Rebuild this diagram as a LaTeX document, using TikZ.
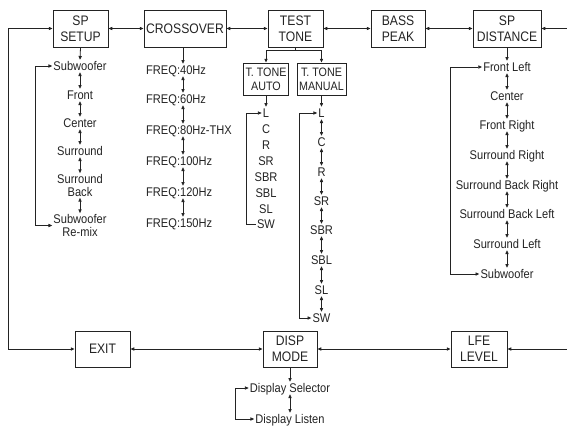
\documentclass[tikz,border=0pt]{standalone}
\usepackage{fontspec}
\setmainfont{Liberation Sans}[FakeStretch=0.88]
\usetikzlibrary{arrows.meta,positioning,calc}
\definecolor{MenuInk}{RGB}{35,35,35}

\begin{document}
\begin{tikzpicture}[x=1pt,y=-1pt,
    menu/.style={draw=MenuInk,line width=0.9pt,align=center,inner sep=1pt,minimum height=37pt,font=\fontsize{13.8}{16}\selectfont,text=MenuInk},
    submenu/.style={menu,minimum height=32pt,font=\fontsize{12.2}{14}\selectfont},
    lbl/.style={inner sep=1pt,align=center,font=\fontsize{12.6}{13}\selectfont,text=MenuInk},
    item/.style={lbl,text height=9pt,text depth=1pt},
    go/.style={draw=MenuInk,line width=0.8pt,-{Triangle[length=3.8pt,width=3.2pt]}},
    link/.style={draw=MenuInk,line width=0.8pt,{Triangle[length=3.8pt,width=3.2pt]}-{Triangle[length=3.8pt,width=3.2pt]}},
    rail/.style={draw=MenuInk,line width=0.9pt}
  ]
    \useasboundingbox (0,0) rectangle (567,426);

    % top row
    \node[menu,minimum width=55pt] (setup) at (80.5,28.5) {SP\\SETUP};
    \node[menu,minimum width=82pt] (cross) at (185,28.5) {CROSSOVER};
    \node[menu,minimum width=55pt] (tone) at (295.5,28.5) {TEST\\TONE};
    \node[menu,minimum width=54pt] (bass) at (398,28.5) {BASS\\PEAK};
    \node[menu,minimum width=68pt] (dist) at (507,28.5) {SP\\DISTANCE};
    \node[submenu,minimum width=45pt] (auto) at (266,79) {T. TONE\\AUTO};
    \node[submenu,minimum width=49pt] (manual) at (321.5,79) {T. TONE\\MANUAL};

    % bottom row
    \node[menu,minimum width=55pt,minimum height=36pt] (exit) at (102.5,349) {EXIT};
    \node[menu,minimum width=54pt,minimum height=36pt] (disp) at (290,349) {DISP\\MODE};
    \node[menu,minimum width=56pt,minimum height=36pt] (lfe) at (479,349) {LFE\\LEVEL};

    \coordinate (lrail) at (8,0);
    \coordinate (rtop) at (567,28.5);
    \coordinate (rbot) at (567,349);

    \draw[link] (setup) -- (cross);
    \draw[link] (cross) -- (tone);
    \draw[link] (tone) -- (bass);
    \draw[link] (bass) -- (dist);
    \draw[go] (rtop) -- (rtop -| dist.east);
    \draw[link] (exit) -- (disp);
    \draw[link] (disp) -- (lfe);
    \draw[go] (rbot) -- (rbot -| lfe.east);
    \draw[link] (exit.west) -- (exit.west -| lrail) |- (setup.west);

    \draw[rail] (tone.south) -- ++(0,3) coordinate (fork);
    \draw[go] (fork) -| (auto.north);
    \draw[go] (fork) -| (manual.north);

    % SP SETUP list
    \node[item] (su1) at (80,66) {Subwoofer};
    \node[item] (su2) at (80,95) {Front};
    \node[item] (su3) at (80,123) {Center};
    \node[item] (su4) at (80,151) {Surround};
    \node[lbl] (su5) at (80,185.5) {Surround\\Back};
    \node[lbl] (su6) at (80,225.5) {Subwoofer\\Re-mix};
    \coordinate (surail) at (35,0);
    \draw[go] (setup.south) -- (su1.north);
    \foreach \a/\b in {su1/su2,su2/su3,su3/su4,su4/su5,su5/su6}
      \draw[link] (\a.south) -- (\b.north);
    \draw[link] (su1.west) -- (su1.west -| surail) |- (su6.west);

    % CROSSOVER list
    \node[item,anchor=west] (f1) at (145,70) {FREQ:40Hz};
    \node[item,anchor=west] (f2) at (145,99) {FREQ:60Hz};
    \node[item,anchor=west] (f3) at (145,130) {FREQ:80Hz-THX};
    \node[item,anchor=west] (f4) at (145,161) {FREQ:100Hz};
    \node[item,anchor=west] (f5) at (145,192) {FREQ:120Hz};
    \node[item,anchor=west] (f6) at (145,223) {FREQ:150Hz};
    \coordinate (fx) at (183,0);
    \draw[go] (cross.south -| fx) -- (f1.north -| fx);
    \foreach \a/\b in {f1/f2,f2/f3,f3/f4,f4/f5,f5/f6}
      \draw[link] (\a.south -| fx) -- (\b.north -| fx);

    % T. TONE AUTO list
    \node[item] (a1) at (266,113) {L};
    \node[item] (a2) at (266,129) {C};
    \node[item] (a3) at (266,145) {R};
    \node[item] (a4) at (266,161) {SR};
    \node[item] (a5) at (266,177) {SBR};
    \node[item] (a6) at (266,193) {SBL};
    \node[item] (a7) at (266,209) {SL};
    \node[item] (a8) at (266,224) {SW};
    \coordinate (arail) at (246,0);
    \draw[go] (auto.south) -- (a1.north);
    \draw[go] (a8.west) -- (a8.west -| arail) |- (a1.west);

    % T. TONE MANUAL list
    \node[item] (m1) at (321.5,113) {L};
    \node[item] (m2) at (321.5,142) {C};
    \node[item] (m3) at (321.5,172) {R};
    \node[item] (m4) at (321.5,201) {SR};
    \node[item] (m5) at (321.5,230) {SBR};
    \node[item] (m6) at (321.5,260) {SBL};
    \node[item] (m7) at (321.5,290) {SL};
    \node[item] (m8) at (321.5,318) {SW};
    \coordinate (mrail) at (299,0);
    \draw[go] (manual.south) -- (m1.north);
    \foreach \a/\b in {m1/m2,m2/m3,m3/m4,m4/m5,m5/m6,m6/m7,m7/m8}
      \draw[link] (\a.south) -- (\b.north);
    \draw[link] (m1.west) -- (m1.west -| mrail) |- (m8.west);

    % SP DISTANCE list
    \node[item] (d1) at (507,67) {Front Left};
    \node[item] (d2) at (507,96) {Center};
    \node[item] (d3) at (507,125) {Front Right};
    \node[item] (d4) at (507,155) {Surround Right};
    \node[item] (d5) at (507,185) {Surround Back Right};
    \node[item] (d6) at (507,214) {Surround Back Left};
    \node[item] (d7) at (507,244) {Surround Left};
    \node[item] (d8) at (507,274) {Subwoofer};
    \coordinate (drail) at (450,0);
    \draw[go] (dist.south) -- (d1.north);
    \foreach \a/\b in {d1/d2,d2/d3,d3/d4,d4/d5,d5/d6,d6/d7,d7/d8}
      \draw[link] (\a.south) -- (\b.north);
    \draw[link] (d1.west) -- (d1.west -| drail) |- (d8.west);

    % DISP MODE list
    \node[item] (p1) at (290,388) {Display Selector};
    \node[item] (p2) at (290,419) {Display Listen};
    \coordinate (prail) at (235,0);
    \draw[go] (disp.south) -- (p1.north);
    \draw[link] (p1.south) -- (p2.north);
    \draw[link] (p1.west) -- (p1.west -| prail) |- (p2.west);
  \end{tikzpicture}
\end{document}
